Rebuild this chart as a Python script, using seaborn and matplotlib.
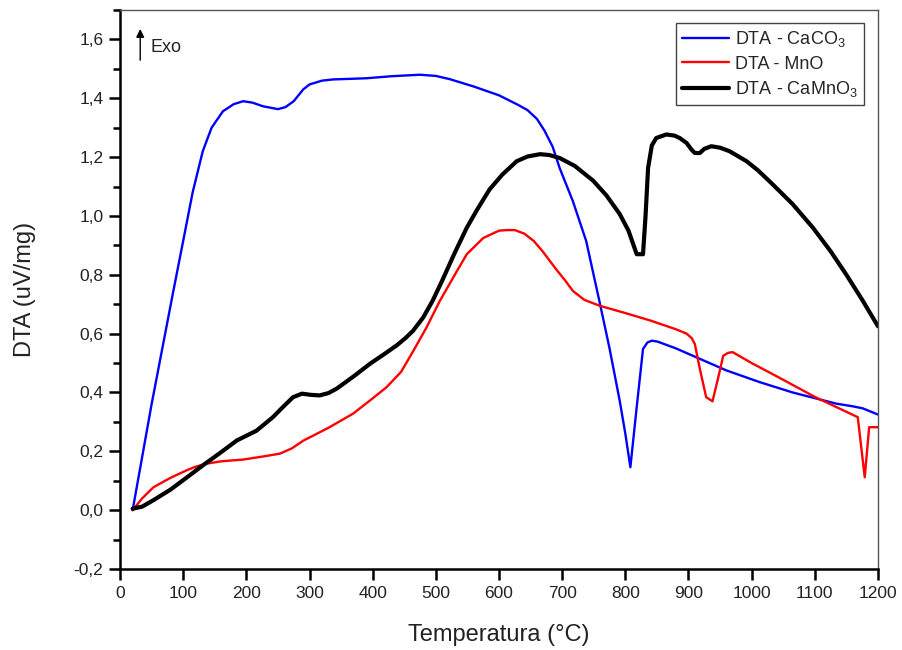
import matplotlib
matplotlib.use("Agg")
import matplotlib.pyplot as plt
from matplotlib.ticker import MultipleLocator, FuncFormatter
import seaborn as sns
import pandas as pd

# DTA - CaCO3
caco3_t = [20, 50, 84, 100, 115, 131, 145, 163, 180, 195, 210, 226, 250, 262, 275, 290,
           300, 320, 337, 390, 430, 475, 500, 522, 560, 600, 628, 645, 660, 672, 685,
           696, 717, 738, 759, 775, 791, 800, 808, 818, 828, 835, 842, 851, 880, 912,
           960, 1013, 1065, 1134, 1160, 1176, 1200]
caco3_v = [0.00, 0.36, 0.74, 0.915, 1.08, 1.22, 1.30, 1.356, 1.38, 1.39, 1.385, 1.373,
           1.363, 1.37, 1.39, 1.43, 1.447, 1.46, 1.464, 1.468, 1.475, 1.48, 1.476, 1.465,
           1.44, 1.41, 1.38, 1.36, 1.33, 1.29, 1.235, 1.163, 1.05, 0.915, 0.71, 0.55,
           0.373, 0.26, 0.146, 0.35, 0.548, 0.57, 0.576, 0.573, 0.55, 0.52, 0.475, 0.435,
           0.40, 0.362, 0.353, 0.346, 0.325]

# DTA - MnO
mno_t = [20, 35, 53, 80, 105, 120, 137, 160, 195, 225, 253, 272, 290, 330, 369, 400, 422,
         445, 464, 485, 506, 530, 549, 575, 600, 612, 625, 640, 655, 669, 690, 705, 717,
         735, 759, 800, 839, 880, 897, 905, 910, 918, 928, 938, 947, 955, 963, 970, 1000,
         1044, 1100, 1168, 1179, 1186, 1200]
mno_v = [0.00, 0.04, 0.078, 0.11, 0.135, 0.148, 0.158, 0.166, 0.172, 0.182, 0.192, 0.21,
         0.236, 0.28, 0.328, 0.38, 0.418, 0.47, 0.54, 0.62, 0.71, 0.80, 0.87, 0.925,
         0.95, 0.952, 0.952, 0.94, 0.915, 0.88, 0.82, 0.78, 0.745, 0.715, 0.695, 0.67,
         0.645, 0.615, 0.60, 0.585, 0.565, 0.48, 0.384, 0.37, 0.45, 0.525, 0.535, 0.537,
         0.50, 0.45, 0.385, 0.316, 0.112, 0.282, 0.282]

# DTA - CaMnO3
camno3_t = [20, 35, 53, 80, 105, 131, 160, 185, 216, 242, 260, 274, 288, 302, 316, 330,
            343, 370, 396, 418, 438, 452, 464, 480, 495, 510, 530, 549, 565, 585, 605,
            628, 645, 665, 680, 696, 720, 749, 770, 791, 805, 818, 828, 832, 836, 842,
            849, 865, 878, 886, 897, 905, 910, 918, 925, 936, 950, 965, 992, 1010, 1033,
            1065, 1097, 1125, 1150, 1175, 1200]
camno3_v = [0.005, 0.012, 0.034, 0.07, 0.11, 0.152, 0.197, 0.237, 0.27, 0.316, 0.355,
            0.384, 0.396, 0.392, 0.39, 0.398, 0.413, 0.455, 0.498, 0.53, 0.56, 0.585,
            0.61, 0.655, 0.712, 0.78, 0.875, 0.96, 1.02, 1.09, 1.14, 1.186, 1.202, 1.21,
            1.207, 1.197, 1.17, 1.12, 1.07, 1.007, 0.95, 0.87, 0.87, 1.0, 1.163, 1.24,
            1.265, 1.277, 1.273, 1.265, 1.248, 1.225, 1.214, 1.214, 1.228, 1.237, 1.232,
            1.22, 1.186, 1.155, 1.108, 1.04, 0.96, 0.88, 0.80, 0.715, 0.625]

series_labels = ["DTA - CaCO$_3$", "DTA - MnO", "DTA - CaMnO$_3$"]
series_colors = ["#0000ff", "#ff0000", "#000000"]
series_widths = [1.7, 1.7, 3.0]

sns.set_theme(style="white")
plt.rcParams["font.family"] = ["Liberation Sans", "DejaVu Sans"]
plt.rcParams["mathtext.fontset"] = "custom"
plt.rcParams["mathtext.rm"] = "Liberation Sans"
plt.rcParams["lines.solid_joinstyle"] = "round"

fig = plt.figure(figsize=(9.03, 6.5), dpi=100)
ax = fig.add_axes([0.1329, 0.1246, 0.8394, 0.8600])

frames = [
    pd.DataFrame({"t": caco3_t, "v": caco3_v}),
    pd.DataFrame({"t": mno_t, "v": mno_v}),
    pd.DataFrame({"t": camno3_t, "v": camno3_v}),
]
for df, lab, col, lw in zip(frames, series_labels, series_colors, series_widths):
    sns.lineplot(data=df, x="t", y="v", ax=ax, color=col, linewidth=lw,
                 label=lab, estimator=None)

ax.set_xlim(0, 1200)
ax.set_ylim(-0.2, 1.7)
ax.xaxis.set_major_locator(MultipleLocator(100))
ax.yaxis.set_major_locator(MultipleLocator(0.2))
ax.yaxis.set_minor_locator(MultipleLocator(0.1))
ax.yaxis.set_major_formatter(FuncFormatter(lambda v, p: f"{v:.1f}".replace(".", ",").replace("-0,0", "0,0")))
ax.xaxis.set_major_formatter(FuncFormatter(lambda v, p: f"{v:.0f}"))

ax.tick_params(axis="both", which="major", direction="out", length=8, width=1.8,
               color="black", labelsize=12.5, labelcolor="#222222",
               bottom=True, left=True, top=False, right=False, pad=4)
ax.tick_params(axis="y", which="minor", direction="out", length=5, width=1.8,
               color="black", left=True)

for side in ("left", "bottom"):
    ax.spines[side].set_color("black")
    ax.spines[side].set_linewidth(1.8)
for side in ("top", "right"):
    ax.spines[side].set_color("#555555")
    ax.spines[side].set_linewidth(1.0)

ax.set_xlabel("Temperatura (°C)", fontsize=17, color="#222222", labelpad=17)
ax.set_ylabel("DTA (uV/mg)", fontsize=17, color="#222222", labelpad=27)

# Exothermic direction marker
ax.annotate("", xy=(32, 1.645), xytext=(32, 1.52),
            arrowprops=dict(arrowstyle="-|>", color="black", lw=1.0, mutation_scale=12))
ax.text(48, 1.572, "Exo", fontsize=13, color="#222222", va="center", ha="left")

leg = ax.legend(loc="upper right", fontsize=13, frameon=True, fancybox=False,
                edgecolor="#444444", framealpha=1, borderpad=0.35, handlelength=2.6,
                handletextpad=0.3, labelspacing=0.35, bbox_to_anchor=(0.993, 0.993))
leg.get_frame().set_linewidth(1.0)

fig.savefig("out.png", dpi=100)
